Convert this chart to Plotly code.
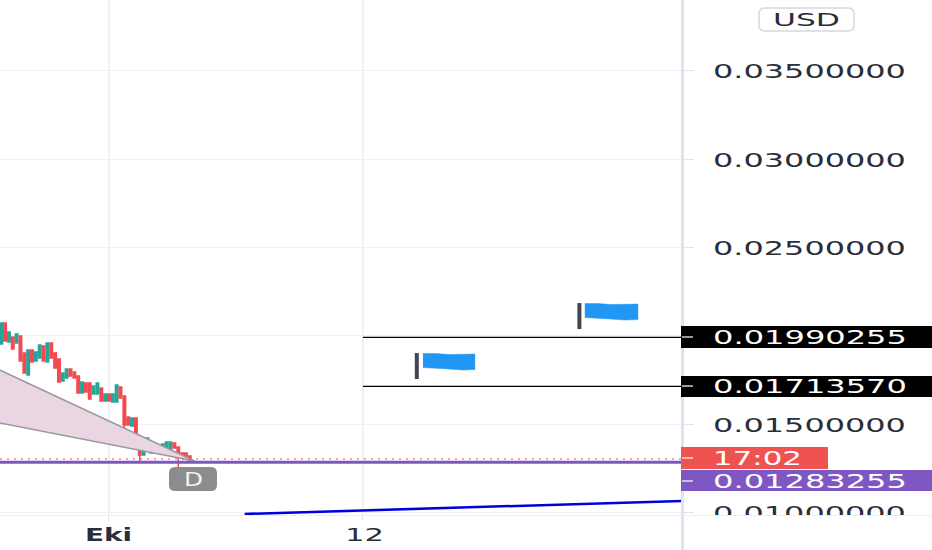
import json
import pandas as pd
import plotly.graph_objects as go

W, H = 932, 550
PLOT_R, PLOT_B = 682, 515

candle_open = [.01953,.02072,.01964,.01993,.01959,.01998,.01902,.01777,.01919,.01857,
               .01874,.01942,.01851,.01959,.01902,.01868,.01744,.01760,.01811,.01794,
               .01772,.01676,.01732,.01732,.01670,.01670,.01704,.01630,.01670,.01625,
               .01625,.01710,.01659,.01540,.01489,.01534,.01404,.01324,.01364,.01381,
               .01341,.01381,.01341,.01358,.01358,.01392,.01370,.01336,.01336,.01319]
candle_close = [.02072,.01970,.02021,.01925,.02010,.01857,.01789,.01919,.01851,.01908,
                .01947,.01857,.01959,.01874,.01817,.01738,.01789,.01811,.01772,.01760,
                .01676,.01738,.01681,.01642,.01715,.01732,.01630,.01670,.01630,.01670,
                .01721,.01647,.01494,.01494,.01534,.01409,.01324,.01409,.01421,.01336,
                .01381,.01336,.01387,.01398,.01398,.01364,.01324,.01313,.01307,.01290]
candle_high = [.02072,.02072,.02021,.01993,.02010,.01998,.01902,.01919,.01919,.01908,
               .01947,.01942,.01959,.01959,.01902,.01868,.01789,.01811,.01811,.01794,
               .01772,.01738,.01732,.01732,.01715,.01732,.01704,.01670,.01670,.01670,
               .01721,.01710,.01659,.01540,.01534,.01534,.01404,.01409,.01421,.01381,
               .01381,.01381,.01387,.01398,.01398,.01392,.01370,.01336,.01336,.01319]
candle_low = [.01953,.01970,.01964,.01925,.01959,.01857,.01789,.01777,.01851,.01857,
              .01874,.01857,.01851,.01874,.01817,.01738,.01744,.01760,.01772,.01760,
              .01676,.01676,.01681,.01642,.01670,.01670,.01630,.01630,.01630,.01625,
              .01625,.01647,.01449,.01494,.01489,.01381,.01290,.01324,.01364,.01336,
              .01341,.01336,.01341,.01358,.01358,.01364,.01256,.01313,.01307,.01290]
candle_time = pd.date_range("2021-09-26 08:00", periods=len(candle_open), freq="4h")

x_range = ["2021-09-26 06:43", "2021-10-25 19:40"]
y_range = [0.009847, 0.039011]
price_ticks = [0.01, 0.015, 0.02, 0.025, 0.03, 0.035]
date_ticks = ["2021-10-01", "2021-10-12"]
date_labels = ["<b>Eki</b>", "12"]

wedge_time = ["2021-09-25 06:43", "2021-10-04 17:00", "2021-09-25 06:43"]
wedge_price = [0.018662, 0.012906, 0.015311]

level_purple = 0.01283255
level_current = 0.01302
level_high = 0.01990255
level_low = 0.01713570
level_start = "2021-10-12"

trend_time = ["2021-10-06 21:00", "2021-10-25 19:40"]
trend_price = [0.009906, 0.010642]

pole_a_time = ["2021-10-21 09:00", "2021-10-21 09:00"]
pole_a_price = [0.021849, 0.020377]
flag_a_time = ["2021-10-21 14:38", "2021-10-22 04:20", "2021-10-22 17:45", "2021-10-23 08:24", "2021-10-23 21:50",
               "2021-10-23 21:50", "2021-10-23 08:24", "2021-10-22 17:45", "2021-10-22 04:20", "2021-10-21 14:38"]
flag_a_price = [.021820, .021820, .021764, .021764, .021792, .020915, .020886, .020943, .020971, .021028]

pole_b_time = ["2021-10-14 08:00", "2021-10-14 08:00"]
pole_b_price = [0.019019, 0.017547]
flag_b_time = ["2021-10-14 14:24", "2021-10-15 03:50", "2021-10-15 17:18", "2021-10-16 07:55", "2021-10-16 20:24",
               "2021-10-16 20:24", "2021-10-16 07:55", "2021-10-15 17:18", "2021-10-15 03:50", "2021-10-14 14:24"]
flag_b_price = [.018990, .018990, .018933, .018933, .018962, .018084, .018056, .018113, .018141, .018198]

TEAL, RED, PURPLE = "#26a69a", "#f44a4f", "#7e57c2"
GRID, AXIS = "#eef1f8", "#dfe3ee"
TEXT = "#2a2e39"
FONT = "DejaVu Sans"


def px(x):
    return x / W


def py(y):
    return 1 - y / H


fig = go.Figure()
fig.add_trace(go.Scatter(x=wedge_time, y=wedge_price, mode="lines", fill="toself",
                         fillcolor="#ead6e2", line=dict(color="#9a9a9e", width=1.5)))
fig.add_trace(go.Candlestick(x=candle_time, open=candle_open, high=candle_high, low=candle_low,
                             close=candle_close, whiskerwidth=0,
                             increasing=dict(line=dict(color=TEAL, width=1.5), fillcolor=TEAL),
                             decreasing=dict(line=dict(color=RED, width=1.5), fillcolor=RED)))
fig.add_trace(go.Scatter(x=x_range, y=[level_current] * 2, mode="lines",
                         line=dict(color=RED, width=1, dash="2px 5px")))
fig.add_trace(go.Scatter(x=x_range, y=[level_purple] * 2, mode="lines",
                         line=dict(color=PURPLE, width=3)))
for lvl in (level_high, level_low):
    fig.add_trace(go.Scatter(x=[level_start, x_range[1]], y=[lvl] * 2, mode="lines",
                             line=dict(color="#000000", width=1.3)))
fig.add_trace(go.Scatter(x=trend_time, y=trend_price, mode="lines",
                         line=dict(color="#0000dd", width=2.5)))
for tx, pr in ((pole_a_time, pole_a_price), (pole_b_time, pole_b_price)):
    fig.add_trace(go.Scatter(x=tx, y=pr, mode="lines", line=dict(color="#434651", width=4)))
for tx, pr in ((flag_a_time, flag_a_price), (flag_b_time, flag_b_price)):
    fig.add_trace(go.Scatter(x=tx, y=pr, mode="lines", fill="toself", fillcolor="#2196f3",
                             line=dict(color="#2196f3", width=0.5)))

shapes = []


def rect(x0, y0, x1, y1, color):
    shapes.append(dict(type="rect", xref="paper", yref="paper", layer="above",
                       x0=px(x0), x1=px(x1), y0=py(y0), y1=py(y1),
                       fillcolor=color, line=dict(width=0)))


def rounded(x0, y0, x1, y1, r, fill, border=None):
    a, b, c, d = px(x0), px(x1), py(y0), py(y1)
    rx, ry = r / W, r / H
    path = (f"M{a+rx},{c} L{b-rx},{c} Q{b},{c} {b},{c-ry} L{b},{d+ry} Q{b},{d} {b-rx},{d} "
            f"L{a+rx},{d} Q{a},{d} {a},{d+ry} L{a},{c-ry} Q{a},{c} {a+rx},{c} Z")
    shapes.append(dict(type="path", path=path, xref="paper", yref="paper", layer="above",
                       fillcolor=fill,
                       line=dict(color=border or fill, width=1.5 if border else 0)))


rect(PLOT_R - 1, PLOT_B, W, H, "#ffffff")
rect(0, PLOT_B, W, PLOT_B + 1, "#eceff6")
rect(681, 0, 684, H, AXIS)
rect(681, 326, W, 348, "#000000")
rect(681, 376, W, 397, "#000000")
rect(681, 447, 828, 469, "#ef5350")
rect(681, 470, W, 491, PURPLE)
for y in (337, 386, 458, 481):
    rect(682, y - 0.6, 693, y + 0.6, "#ffffff")
rounded(169, 467, 217, 491, 6, "#8c8c8c")
rounded(759, 8, 854, 31, 6, "#ffffff", "#d5d8e0")


def note(text, x, y, color, size=19):
    return dict(text=text, x=px(x), y=py(y), xref="paper", yref="paper", xanchor="left",
                yanchor="middle", showarrow=False, font=dict(family=FONT, size=size, color=color))


annotations = [
    note("0.01990255", 713, 337, "#ffffff"),
    note("0.01713570", 713, 386, "#ffffff"),
    note("17:02", 713, 458, "#ffffff"),
    note("0.01283255", 713, 481, "#ffffff"),
    note("D", 184, 479, "#f2f2f2", 19),
    note("USD", 773, 20, TEXT, 17),
]

fig.update_layout(
    width=W, height=H, autosize=False, showlegend=False,
    margin=dict(l=0, r=0, t=0, b=0, pad=0), paper_bgcolor="#ffffff", plot_bgcolor="#ffffff",
    font=dict(family=FONT, color=TEXT), boxgap=0.08, hovermode=False,
    shapes=shapes, annotations=annotations,
    xaxis=dict(domain=[0, PLOT_R / W], range=x_range, type="date", rangeslider=dict(visible=False),
               automargin=False, tickmode="array", tickvals=date_ticks, ticktext=date_labels,
               showgrid=True, gridcolor=GRID, gridwidth=2, zeroline=False, showline=False,
               ticks="outside", ticklen=5, tickcolor=AXIS, tickfont=dict(size=17, color=TEXT)),
    yaxis=dict(domain=[1 - PLOT_B / H, 1], range=y_range, side="right", tickmode="array",
               automargin=False, tickvals=price_ticks, tickformat=".8f", showgrid=True,
               gridcolor=GRID, gridwidth=1, zeroline=False, showline=False, ticks="outside",
               ticklen=11, tickcolor=AXIS, tickfont=dict(size=19, color=TEXT)),
)

stretch = {"Eki": [85, 47], "12": [345, 39], "USD": [773, 67], "D": [184, 19], "17:02": [713, 89],
           "0.01990255": [713, 194], "0.01713570": [713, 194], "0.01283255": [713, 194]}
post = """
document.body.style.margin = '0';
var spans = %s;
document.querySelectorAll('.xtick text, .ytick text, .annotation-text').forEach(function (t) {
  var s = spans[t.textContent] || [713, 193];
  var r = t.getBoundingClientRect();
  var e = t.parentNode.getScreenCTM().e;
  var k = s[1] / r.width;
  var dy = t.closest('.ytick') ? 1 : 0;
  var old = t.getAttribute('transform') || '';
  t.setAttribute('transform', 'translate(' + (s[0] - e) + ',' + dy + ') scale(' + k + ',1) translate(' + (-(r.left - e)) + ',0) ' + old);
});
""" % json.dumps(stretch)

fig.write_html("out.html", post_script=post, config=dict(displayModeBar=False))
